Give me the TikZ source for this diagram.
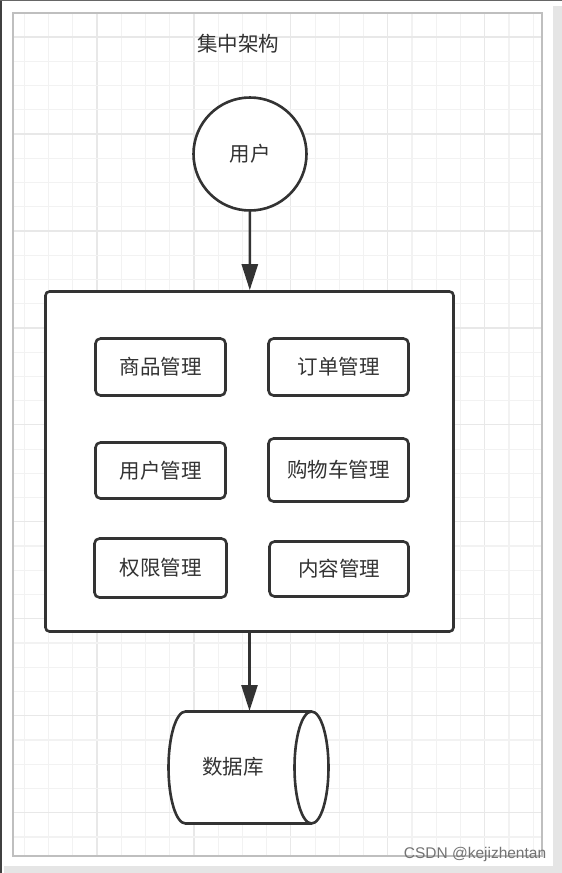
\documentclass[tikz,border=0pt]{standalone}
\usepackage{fontspec}
\setmainfont{Liberation Sans}
\newfontfamily\cjk{Noto Sans CJK SC}
\usepackage{xcolor}
\usetikzlibrary{positioning,arrows.meta}
\definecolor{ink}{HTML}{333333}
\definecolor{gridc}{HTML}{F2F2F2}
\definecolor{gridm}{HTML}{E8E8E8}

\begin{document}
\begin{tikzpicture}[x=1pt,y=-1pt]
\useasboundingbox (0,0) rectangle (562,873);
% page, shadow strips and grid
\fill[white] (0,0) rectangle (562,873);
\fill[black!10] (553,6) rectangle (562,873);
\fill[black!10] (4,866) rectangle (562,873);
\draw[black!75, line width=2pt] (1,0) -- (1,873);
\draw[black!60, line width=1pt] (0,0.5) -- (562,0.5);
\foreach \k in {1,...,22} \draw[gridc, line width=1.2pt] (24.24*\k,13) -- (24.24*\k,856);
\foreach \k in {4,8,...,20} \draw[gridm, line width=1.2pt] (24.24*\k,13) -- (24.24*\k,856);
\foreach \k in {1,...,34} \draw[gridc, line width=1.2pt] (13,12.8+24.24*\k) -- (542,12.8+24.24*\k);
\foreach \k in {1,5,...,33} \draw[gridm, line width=1.2pt] (13,12.8+24.24*\k) -- (542,12.8+24.24*\k);
\draw[black!25, line width=1.5pt] (13,13) rectangle (542,856);

\tikzstyle{every node}=[font=\cjk\fontsize{20.5}{21}\selectfont, text=ink];
\tikzstyle{module}=[draw=ink, line width=2.6pt, rounded corners=5pt, fill=white];
\tikzstyle{arr}=[draw=ink, line width=2.6pt, -{Triangle[length=26pt,width=16pt]}];

\node (title) at (238,44) {集中架构};
\node[draw=ink, line width=2.6pt, circle, fill=white, minimum size=113pt] (user) at (250,154) {用户};

\node[module, rounded corners=4pt, minimum width=408pt, minimum height=340pt] (sys) at (249.5,461.5) {};
\foreach \n/\x/\y/\w/\h/\t in {m1/160.5/367/130/57/商品管理, m2/338.5/367/140/57/订单管理,
  m3/160.5/470.5/130/56/用户管理, m4/338.5/470/140/63/购物车管理,
  m5/160.5/568/132/59/权限管理, m6/339/569/139/55/内容管理}
  \node[module, minimum width=\w pt, minimum height=\h pt] (\n) at (\x,\y) {\t};

% database cylinder
\draw[ink, line width=2.6pt, fill=white] (311.5,711.5) -- (185.5,711.5)
  arc[start angle=270, end angle=90, x radius=17, y radius=56] -- (311.5,823.5)
  arc[start angle=90, end angle=-90, x radius=17, y radius=56] -- cycle;
\draw[ink, line width=2.6pt] (311.5,711.5) arc[start angle=270, end angle=90, x radius=17, y radius=56];
\node (db) at (233,767) {数据库};
\coordinate (dbtop) at (249.5,711);

\draw[arr] (user) -- (sys);
\draw[arr] (sys) -- (dbtop);

\node[anchor=base, font=\fontsize{15.5}{16}\selectfont, text=black!55] (mark) at (475,858) {CSDN @kejizhentan};
\end{tikzpicture}
\end{document}
